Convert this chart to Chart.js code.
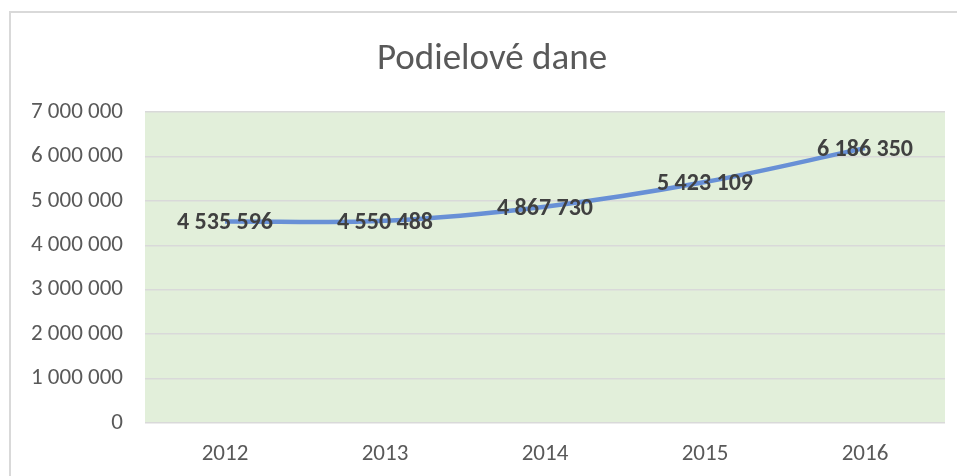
<!DOCTYPE html>
<html>
<head>
<meta charset="utf-8">
<script src="https://cdn.jsdelivr.net/npm/chart.js@4/dist/chart.umd.min.js"></script>
<style>
  html, body { margin: 0; padding: 0; overflow: hidden; background: #fff; }
  #frame { position: absolute; left: 9px; top: 11px; width: 1000px; height: 600px; border: 2px solid #d9d9d9; box-sizing: border-box; }
  #wrap { position: absolute; left: 0; top: 0; width: 957px; height: 476px; }
</style>
</head>
<body>
<div id="frame"></div>
<div id="wrap"><canvas id="podieloveChart"></canvas></div>
<script>
// data
const years = ["2012", "2013", "2014", "2015", "2016"];
const podieloveDane = [4535596, 4550488, 4867730, 5423109, 6186350];
const yTicks = [0, 1000000, 2000000, 3000000, 4000000, 5000000, 6000000, 7000000];
const chartTitle = "Podielové dane";

const fontFamily = "Calibri, Carlito, 'Liberation Sans Narrow', 'Open Sans', sans-serif";

// 4535596 -> "4 535 596"
function formatNum(n) {
  return String(n).replace(/\B(?=(\d{3})+(?!\d))/g, " ");
}

//green plot area + title (centered on the chart frame, not the canvas)
const plotBg = {
  id: "plotBg",
  beforeDraw(chart) {
    const { ctx, chartArea } = chart;
    ctx.save();
    ctx.fillStyle = "#e2efda";
    ctx.fillRect(chartArea.left, chartArea.top, chartArea.right - chartArea.left, chartArea.bottom - chartArea.top);
    ctx.font = "37px " + fontFamily;
    ctx.fillStyle = "#595959";
    ctx.textAlign = "center";
    ctx.textBaseline = "middle";
    ctx.fillText(chartTitle, 492, 60);
    ctx.restore();
  },
};

//labels centered on the points
const pointLabels = {
  id: "pointLabels",
  afterDatasetsDraw(chart) {
    const { ctx } = chart;
    const meta = chart.getDatasetMeta(0);
    ctx.save();
    ctx.font = "bold 24px " + fontFamily;
    ctx.fillStyle = "#404040";
    ctx.textAlign = "center";
    ctx.textBaseline = "middle";
    meta.data.forEach((pt, i) => {
      ctx.fillText(formatNum(podieloveDane[i]), pt.x, pt.y + 2);
    });
    ctx.restore();
  },
};

const podieloveData = {
  labels: years,
  datasets: [
    {
      label: chartTitle,
      data: podieloveDane,
      borderColor: "#6890d6",
      backgroundColor: "#6890d6",
      borderWidth: 4.5,
      radius: 0,
      tension: 0.35,
    },
  ],
};

const podieloveConfig = {
  type: "line",
  data: podieloveData,
  options: {
    responsive: false,
    animation: false,
    layout: { padding: { left: 0, right: 12, top: 112, bottom: 0 } },
    plugins: {
      legend: { display: false },
      tooltip: { enabled: false },
      title: { display: false },
    },
    scales: {
      x: {
        offset: true,
        grid: { display: false, drawTicks: false },
        border: { display: false },
        ticks: { color: "#595959", font: { family: fontFamily, size: 23 }, padding: 17 },
        afterFit(scale) { scale.height = 53; },
      },
      y: {
        min: 0,
        max: 7000000,
        afterBuildTicks(scale) { scale.ticks = yTicks.map((v) => ({ value: v })); },
        grid: { color: "#d9d9d9", lineWidth: 1.5, drawTicks: false },
        border: { display: false },
        ticks: {
          color: "#595959",
          font: { family: fontFamily, size: 23 },
          padding: 22,
          callback: (v) => formatNum(v),
        },
        afterFit(scale) { scale.width = 145; },
      },
    },
  },
  plugins: [plotBg, pointLabels],
};

const canvas = document.getElementById("podieloveChart");
canvas.width = 957;
canvas.height = 476;
const podieloveChart = new Chart(canvas, podieloveConfig);
</script>
</body>
</html>
